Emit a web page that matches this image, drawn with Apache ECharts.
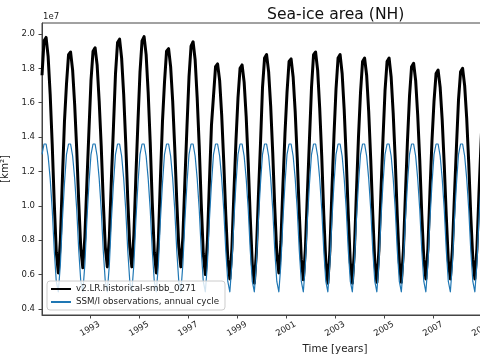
<!DOCTYPE html>
<html>
<head>
<meta charset="utf-8">
<script src="https://cdn.jsdelivr.net/npm/echarts@6/dist/echarts.min.js"></script>
<style>
html,body{margin:0;padding:0;background:#fff;}
#chart{width:480px;height:360px;}
</style>
</head>
<body>
<div id="chart"></div>
<script>
// Monthly NH sea-ice area, units of 1e7 km^2, Jan 1991 .. Feb 2009 (model)
var startYear = 1991;
var modelArea = [
  1.76,1.96,1.98,1.87,1.65,1.36,1.02,0.73,0.61,0.80,1.16,1.49, // 1991
  1.71,1.88,1.895,1.79,1.59,1.33,1.02,0.75,0.64,0.82,1.14,1.44, // 1992
  1.73,1.90,1.92,1.82,1.61,1.35,1.03,0.76,0.645,0.82,1.16,1.46, // 1993
  1.77,1.95,1.97,1.86,1.65,1.37,1.04,0.76,0.645,0.83,1.18,1.49, // 1994
  1.78,1.96,1.985,1.88,1.66,1.37,1.02,0.73,0.61,0.80,1.16,1.49, // 1995
  1.72,1.90,1.915,1.81,1.61,1.34,1.03,0.76,0.645,0.82,1.15,1.46, // 1996
  1.75,1.93,1.955,1.85,1.63,1.35,1.01,0.72,0.60,0.79,1.14,1.47, // 1997
  1.64,1.81,1.826,1.73,1.53,1.26,0.95,0.69,0.575,0.75,1.08,1.38, // 1998
  1.63,1.80,1.82,1.72,1.52,1.25,0.93,0.66,0.55,0.73,1.06,1.36, // 1999
  1.69,1.86,1.88,1.78,1.58,1.31,0.99,0.72,0.61,0.79,1.12,1.42, // 2000
  1.66,1.84,1.855,1.75,1.55,1.28,0.96,0.69,0.57,0.75,1.08,1.39, // 2001
  1.69,1.88,1.895,1.79,1.57,1.29,0.95,0.67,0.55,0.74,1.09,1.41, // 2002
  1.68,1.86,1.88,1.77,1.56,1.28,0.95,0.67,0.55,0.74,1.08,1.40, // 2003
  1.66,1.84,1.86,1.76,1.55,1.27,0.95,0.67,0.555,0.74,1.08,1.39, // 2004
  1.67,1.84,1.86,1.75,1.54,1.27,0.94,0.67,0.555,0.74,1.07,1.38, // 2005
  1.64,1.81,1.83,1.73,1.53,1.27,0.95,0.69,0.575,0.75,1.08,1.38, // 2006
  1.61,1.77,1.79,1.69,1.50,1.24,0.94,0.68,0.575,0.75,1.06,1.35, // 2007
  1.62,1.78,1.80,1.70,1.51,1.25,0.94,0.69,0.575,0.75,1.07,1.36, // 2008
  1.63,1.80                                                     // 2009
];
// SSM/I observed climatological annual cycle (Jan..Dec), units of 1e7 km^2
var obsCycle = [1.30,1.36,1.36,1.29,1.16,0.98,0.74,0.56,0.50,0.66,0.92,1.13];
var yTicks = [0.4,0.6,0.8,1.0,1.2,1.4,1.6,1.8,2.0];
var xTicks = [1993,1995,1997,1999,2001,2003,2005,2007,2009,2011,2013];
var modelName = 'v2.LR.historical-smbb_0271';
var obsName = 'SSM/I observations, annual cycle';

var modelData = [], obsData = [];
for (var i = 0; i < modelArea.length; i++) {
  var t = startYear + (i + 0.5) / 12;
  modelData.push([t, modelArea[i]]);
  obsData.push([t, obsCycle[i % 12]]);
}

var FONT = 'DejaVu Sans';
var chart = echarts.init(document.getElementById('chart'), null, {renderer: 'canvas'});
chart.setOption({
  animation: false,
  backgroundColor: '#fff',
  title: {
    text: 'Sea-ice area (NH)',
    left: 262, top: 2,
    textStyle: {fontFamily: FONT, fontSize: 15.6, fontWeight: 'normal', color: '#111'}
  },
  graphic: [{
    type: 'text', left: 43, top: 12,
    style: {text: '1e7', fontFamily: FONT, fontSize: 8.5, fill: '#222'}
  }],
  legend: {
    left: 47, top: 281,
    orient: 'vertical',
    itemWidth: 20, itemHeight: 9, itemGap: 3,
    padding: [3, 6, 3, 3],
    backgroundColor: 'rgba(255,255,255,0.8)',
    borderColor: '#ccc', borderWidth: 1, borderRadius: 3,
    itemStyle: {opacity: 0},
    textStyle: {fontFamily: FONT, fontSize: 8.7, color: '#222', lineHeight: 10},
    data: [modelName, obsName]
  },
  grid: {left: 42, top: 23, width: 586, height: 292, show: true,
         borderColor: '#444', borderWidth: 1, containLabel: false, outerBoundsMode: 'none'},
  xAxis: {
    type: 'value', min: 1991.0417, max: 2014.9583,
    name: 'Time [years]', nameLocation: 'middle', nameGap: 27,
    nameTextStyle: {fontFamily: FONT, fontSize: 10.3, color: '#222'},
    axisLine: {show: true, lineStyle: {color: '#444', width: 1}},
    axisTick: {show: true, length: 3.5, customValues: xTicks, lineStyle: {color: '#444'}},
    axisLabel: {customValues: xTicks, rotate: 30, align: 'center', verticalAlign: 'middle', margin: 14,
      fontFamily: FONT, fontSize: 8.5, color: '#222',
      formatter: function (v) { return String(Math.round(v)); }},
    splitLine: {show: false}
  },
  yAxis: {
    type: 'value', min: 0.365, max: 2.064,
    name: '[km\u00b2]', nameLocation: 'middle', nameGap: 21,
    nameTextStyle: {fontFamily: FONT, fontSize: 10.3, color: '#222'},
    axisLine: {show: true, lineStyle: {color: '#444', width: 1}},
    axisTick: {show: true, length: 3.5, customValues: yTicks, lineStyle: {color: '#444'}},
    axisLabel: {customValues: yTicks, margin: 7, fontFamily: FONT, fontSize: 8.5, color: '#222',
      formatter: function (v) { return v.toFixed(1); }},
    splitLine: {show: false}
  },
  series: [{
    name: modelName, type: 'line', data: modelData, symbol: 'none',
    lineStyle: {color: '#000', width: 3, join: 'round'}, itemStyle: {color: '#000'}
  }, {
    name: obsName, type: 'line', data: obsData, symbol: 'none',
    lineStyle: {color: '#1f77b4', width: 1.2, join: 'round'}, itemStyle: {color: '#1f77b4'}
  }]
});
</script>
</body>
</html>
